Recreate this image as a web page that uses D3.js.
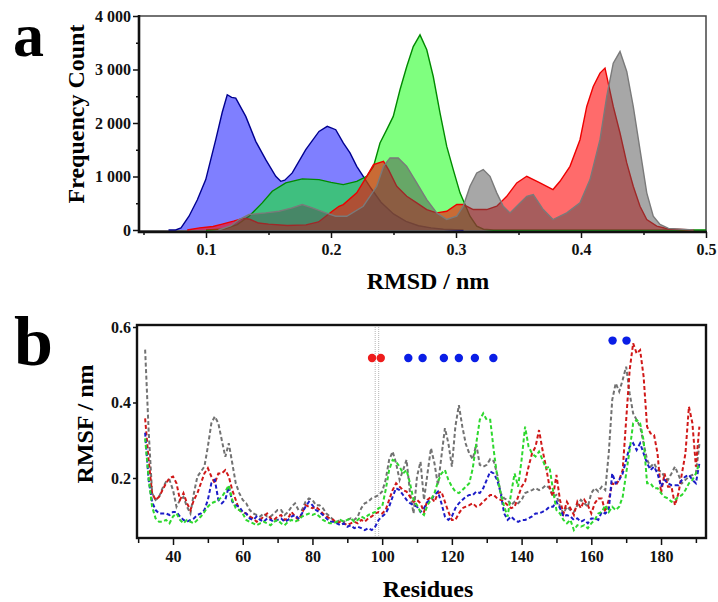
<!DOCTYPE html>
<html>
<head>
<meta charset="utf-8">
<script src="https://cdn.jsdelivr.net/npm/d3@7"></script>
<style>
body { margin: 0; background: #fff; }
text { font-family: "Liberation Serif", "Times New Roman", serif; font-weight: bold; }
</style>
</head>
<body>
<svg id="chart" width="718" height="602"></svg>
<script>

// ---------- panel a : RMSD histograms [rmsd (nm), frequency count] ----------
let rmsdBlue = [[0.07,0],[0.0757,0],[0.08,40],[0.0864,257],[0.093,560],[0.0998,942],[0.1078,1689],[0.113,2200],[0.117,2528],[0.1205,2480],[0.1238,2466],[0.1318,2123],[0.1398,1657],[0.1478,1315],[0.1558,1004],[0.1598,910],[0.163,930],[0.169,1067],[0.1798,1502],[0.1904,1843],[0.197,1937],[0.2038,1875],[0.2098,1627],[0.2152,1440],[0.2206,1190],[0.2258,1004],[0.232,780],[0.24,520],[0.25,300],[0.26,160],[0.27,80],[0.28,40],[0.29,15],[0.3,5],[0.306,0]];
let rmsdGreen = [[0.1,0],[0.115,20],[0.125,100],[0.1344,257],[0.145,507],[0.153,724],[0.1638,880],[0.177,955],[0.1904,942],[0.2,890],[0.2098,849],[0.2206,910],[0.2286,1004],[0.234,1190],[0.2392,1627],[0.2446,1875],[0.2498,2123],[0.2552,2621],[0.2606,3056],[0.2658,3429],[0.2712,3647],[0.2766,3368],[0.2818,2869],[0.2872,2187],[0.2926,1563],[0.2978,1129],[0.3032,694],[0.3072,476],[0.3112,257],[0.3166,70],[0.322,15],[0.33,0],[0.5,0]];
let rmsdRed = [[0.085,0],[0.095,40],[0.1056,65],[0.113,110],[0.122,165],[0.13,220],[0.135,200],[0.142,130],[0.15,110],[0.165,85],[0.18,95],[0.19,150],[0.201,350],[0.2064,444],[0.2098,476],[0.2206,694],[0.2286,1004],[0.234,1222],[0.242,1284],[0.246,1129],[0.2526,817],[0.2606,630],[0.2686,507],[0.2766,382],[0.2846,320],[0.2926,351],[0.3006,476],[0.3058,476],[0.3138,382],[0.3246,382],[0.3326,444],[0.3406,630],[0.3486,880],[0.3566,1004],[0.3672,880],[0.3776,756],[0.3832,910],[0.3912,1190],[0.3992,1688],[0.4046,2310],[0.4098,2683],[0.4152,2933],[0.4192,3026],[0.4218,2746],[0.4258,2310],[0.4312,1813],[0.4366,1254],[0.4418,817],[0.4472,444],[0.4526,196],[0.4606,71],[0.47,20],[0.49,0]];
let rmsdGray = [[0.11,0],[0.12,80],[0.1264,196],[0.1344,289],[0.1478,320],[0.1584,351],[0.169,414],[0.177,476],[0.185,414],[0.1958,320],[0.2038,257],[0.2126,257],[0.2258,444],[0.2366,817],[0.242,1190],[0.2472,1347],[0.2538,1347],[0.2606,1190],[0.2686,880],[0.2766,569],[0.2846,320],[0.2926,196],[0.3006,257],[0.3058,444],[0.3112,817],[0.3166,1067],[0.3218,1129],[0.3272,1004],[0.3326,694],[0.3378,444],[0.3432,320],[0.3486,444],[0.3566,630],[0.3618,662],[0.3698,382],[0.3776,196],[0.3886,320],[0.3992,507],[0.4072,942],[0.4152,1689],[0.4206,2496],[0.4258,3119],[0.4312,3336],[0.4366,2963],[0.4418,2310],[0.4472,1502],[0.4526,694],[0.4578,257],[0.4632,103],[0.47,30],[0.49,0]];

let rmsdTicks = [0.1, 0.2, 0.3, 0.4, 0.5];
let rmsdMinorTicks = [0.05, 0.15, 0.25, 0.35, 0.45];
let countTicks = [0, 1000, 2000, 3000, 4000];
let countMinorTicks = [500, 1500, 2500, 3500];

// ---------- panel b : RMSF per residue ----------
let firstResidue = 32;
let rmsfGray = [0.54,0.327,0.16,0.142,0.15,0.173,0.19,0.195,0.168,0.124,0.142,0.15,0.124,0.106,0.16,0.204,0.217,0.23,0.283,0.345,0.363,0.345,0.30,0.256,0.292,0.239,0.186,0.16,0.142,0.133,0.115,0.106,0.102,0.098,0.106,0.098,0.098,0.106,0.115,0.115,0.102,0.11,0.124,0.133,0.115,0.115,0.137,0.146,0.142,0.128,0.128,0.12,0.106,0.098,0.089,0.084,0.089,0.084,0.089,0.093,0.089,0.098,0.12,0.133,0.137,0.146,0.15,0.155,0.164,0.195,0.248,0.27,0.239,0.195,0.221,0.248,0.16,0.106,0.204,0.243,0.142,0.212,0.279,0.239,0.181,0.257,0.332,0.292,0.23,0.336,0.393,0.336,0.29,0.265,0.25,0.29,0.235,0.23,0.235,0.25,0.245,0.21,0.16,0.146,0.142,0.128,0.137,0.133,0.142,0.16,0.164,0.168,0.173,0.168,0.173,0.181,0.173,0.15,0.155,0.124,0.106,0.124,0.115,0.11,0.128,0.142,0.133,0.124,0.16,0.173,0.164,0.177,0.168,0.265,0.407,0.451,0.429,0.46,0.495,0.424,0.371,0.354,0.336,0.292,0.248,0.23,0.239,0.221,0.217,0.204,0.195,0.212,0.23,0.208,0.186,0.195,0.204,0.208,0.212,0.29];
let rmsfRed = [0.358,0.248,0.16,0.142,0.15,0.168,0.186,0.2,0.204,0.186,0.142,0.16,0.133,0.115,0.142,0.16,0.186,0.212,0.226,0.204,0.186,0.212,0.212,0.221,0.204,0.168,0.142,0.115,0.11,0.106,0.098,0.093,0.084,0.089,0.098,0.106,0.093,0.089,0.098,0.102,0.089,0.093,0.11,0.098,0.089,0.106,0.128,0.124,0.12,0.124,0.115,0.106,0.098,0.093,0.089,0.08,0.084,0.08,0.075,0.08,0.084,0.08,0.089,0.084,0.093,0.098,0.106,0.11,0.106,0.115,0.142,0.168,0.186,0.177,0.168,0.164,0.15,0.137,0.142,0.133,0.11,0.142,0.15,0.137,0.16,0.164,0.137,0.11,0.089,0.089,0.106,0.12,0.124,0.128,0.133,0.124,0.128,0.137,0.146,0.155,0.155,0.146,0.142,0.137,0.128,0.12,0.124,0.15,0.177,0.19,0.23,0.265,0.283,0.327,0.274,0.23,0.177,0.15,0.208,0.142,0.106,0.137,0.12,0.102,0.137,0.12,0.142,0.128,0.106,0.133,0.146,0.146,0.11,0.142,0.186,0.181,0.195,0.221,0.354,0.486,0.557,0.53,0.539,0.469,0.336,0.318,0.314,0.265,0.16,0.212,0.177,0.177,0.128,0.16,0.212,0.265,0.389,0.345,0.23,0.336];
let rmsfBlue = [0.32,0.195,0.137,0.115,0.106,0.106,0.106,0.102,0.11,0.11,0.098,0.089,0.084,0.089,0.093,0.102,0.106,0.115,0.142,0.186,0.195,0.142,0.133,0.142,0.177,0.137,0.128,0.124,0.11,0.106,0.093,0.089,0.098,0.089,0.084,0.093,0.089,0.084,0.089,0.093,0.084,0.089,0.098,0.102,0.093,0.106,0.124,0.137,0.128,0.115,0.11,0.102,0.093,0.084,0.084,0.08,0.075,0.08,0.071,0.075,0.067,0.071,0.067,0.062,0.067,0.062,0.071,0.089,0.098,0.106,0.124,0.15,0.173,0.168,0.155,0.142,0.133,0.128,0.124,0.11,0.12,0.137,0.142,0.155,0.164,0.133,0.098,0.089,0.098,0.12,0.133,0.142,0.15,0.155,0.155,0.164,0.16,0.173,0.195,0.217,0.212,0.195,0.16,0.106,0.089,0.098,0.089,0.084,0.089,0.089,0.093,0.098,0.106,0.106,0.11,0.115,0.124,0.124,0.137,0.12,0.098,0.102,0.098,0.089,0.093,0.084,0.089,0.08,0.093,0.093,0.089,0.11,0.106,0.115,0.212,0.186,0.195,0.212,0.248,0.283,0.292,0.274,0.292,0.265,0.239,0.221,0.23,0.212,0.177,0.195,0.186,0.181,0.181,0.181,0.195,0.204,0.208,0.195,0.186,0.239];
let rmsfGreen = [0.305,0.2,0.124,0.093,0.084,0.084,0.089,0.08,0.098,0.106,0.089,0.08,0.089,0.084,0.08,0.089,0.098,0.11,0.124,0.133,0.137,0.142,0.15,0.164,0.181,0.142,0.12,0.115,0.106,0.089,0.084,0.08,0.075,0.08,0.084,0.08,0.075,0.084,0.089,0.08,0.075,0.084,0.089,0.084,0.089,0.098,0.102,0.106,0.102,0.106,0.098,0.089,0.084,0.08,0.08,0.084,0.089,0.084,0.089,0.093,0.084,0.089,0.098,0.093,0.102,0.106,0.11,0.12,0.124,0.168,0.221,0.248,0.243,0.23,0.212,0.221,0.186,0.142,0.128,0.11,0.102,0.128,0.142,0.16,0.19,0.212,0.221,0.195,0.177,0.164,0.16,0.168,0.177,0.186,0.226,0.292,0.354,0.371,0.354,0.354,0.274,0.204,0.16,0.124,0.098,0.16,0.212,0.177,0.248,0.336,0.283,0.265,0.257,0.27,0.248,0.226,0.23,0.168,0.115,0.106,0.089,0.08,0.089,0.062,0.075,0.071,0.075,0.067,0.08,0.089,0.106,0.11,0.128,0.11,0.124,0.115,0.124,0.15,0.212,0.274,0.345,0.354,0.345,0.30,0.186,0.186,0.173,0.173,0.16,0.15,0.146,0.137,0.142,0.15,0.155,0.168,0.186,0.195,0.212,0.239];

let markRedRes = [97.1, 99.6];
let markBlueRes = [107.5, 111.6, 117.7, 122.0, 126.6, 131.9];
let markBlueTopRes = [166.1, 170.1];
let markRowLow = 0.518;
let markRowHigh = 0.564;
let guideRes = [98, 99];

let residueTicks = [40, 60, 80, 100, 120, 140, 160, 180];
let residueMinorTicks = [30, 50, 70, 90, 110, 130, 150, 170, 190];
let rmsfTicks = [0.2, 0.4, 0.6];

let svg = d3.select("#chart");

// ********* panel a *********
let xA = d3.scaleLinear().domain([0.0464, 0.5]).range([139, 706]);
let yA = d3.scaleLinear().domain([0, 4000]).range([230, 16]);

let area = d3.area().x(d => xA(d[0])).y0(yA(0)).y1(d => yA(d[1]));
let outline = d3.line().x(d => xA(d[0])).y(d => yA(d[1]));

let histos = [
    {data: rmsdBlue, fill: "#0000ff", op: 0.5, stroke: "#000090"},
    {data: rmsdGreen, fill: "#00ff00", op: 0.5, stroke: "#008a00"},
    {data: rmsdRed, fill: "#ff0000", op: 0.58, stroke: "#ee0000"},
    {data: rmsdGray, fill: "#505050", op: 0.5, stroke: "#7a7a7a"}
];

svg.append("rect")
    .attr("x", 139).attr("y", 16)
    .attr("width", 706 - 139).attr("height", 231 - 16)
    .attr("fill", "none").attr("stroke", "#444").attr("stroke-width", 1.5);

for (let h of histos){
    svg.append("path")
        .datum(h.data)
        .attr("d", area)
        .attr("fill", h.fill)
        .attr("fill-opacity", h.op)
    svg.append("path")
        .datum(h.data)
        .attr("d", outline)
        .attr("fill", "none")
        .attr("stroke", h.stroke)
        .attr("stroke-width", 1.4)
}

let fmtCount = d => d == 0 ? "0" : d3.format(",")(d).replace(",", " ");

svg.append("g").attr("transform", "translate(139,0)")
    .call(d3.axisLeft(yA).tickValues(countTicks).tickSize(6).tickPadding(2).tickFormat(fmtCount));
svg.append("g").attr("transform", "translate(139,0)")
    .call(d3.axisLeft(yA).tickValues(countMinorTicks).tickSize(3).tickFormat(""));
svg.append("g").attr("transform", "translate(0,232)")
    .call(d3.axisBottom(xA).tickValues(rmsdTicks).tickSize(6).tickPadding(6).tickFormat(d3.format(".1f")));
svg.append("g").attr("transform", "translate(0,232)")
    .call(d3.axisBottom(xA).tickValues(rmsdMinorTicks).tickSize(3).tickFormat(""));

// thick axis lines
svg.append("path").attr("d", d3.line()([[139, 15], [139, 232], [707, 232]]))
    .attr("fill", "none").attr("stroke", "#111").attr("stroke-width", 2.6);

svg.append("text").attr("x", 13).attr("y", 55.5).attr("font-size", 62).text("a");
svg.append("text")
    .attr("transform", "translate(84,114) rotate(-90)")
    .attr("text-anchor", "middle").attr("font-size", 24)
    .text("Frequency Count");
svg.append("text").attr("x", 428).attr("y", 289)
    .attr("text-anchor", "middle").attr("font-size", 24)
    .text("RMSD / nm");

// ********* panel b *********
let xB = d3.scaleLinear().domain([29.67, 192.9]).range([137, 706]);
let yB = d3.scaleLinear().domain([0.0437, 0.6053]).range([537, 325]);

for (let r of guideRes){
    svg.append("line")
        .attr("x1", xB(r)).attr("x2", xB(r))
        .attr("y1", 325).attr("y2", 537)
        .attr("stroke", "#b4b4b4").attr("stroke-width", 1)
        .attr("stroke-dasharray", "1 1");
}

let rmsfLine = d3.line().x((d, i) => xB(firstResidue + i)).y(d => yB(d));
let traces = [
    {data: rmsfGray, color: "#727272"},
    {data: rmsfRed, color: "#d01818"},
    {data: rmsfBlue, color: "#1c1cc8"},
    {data: rmsfGreen, color: "#2ed82e"}
];
for (let t of traces){
    svg.append("path")
        .datum(t.data)
        .attr("d", rmsfLine)
        .attr("fill", "none")
        .attr("stroke", t.color)
        .attr("stroke-width", 2)
        .attr("stroke-dasharray", "4 2.5");
}

let dots = markRedRes.map(r => [r, markRowLow, "#ee1c1c"])
    .concat(markBlueRes.map(r => [r, markRowLow, "#0a1ee6"]))
    .concat(markBlueTopRes.map(r => [r, markRowHigh, "#0a1ee6"]));
for (let d of dots){
    svg.append("circle")
        .attr("cx", xB(d[0])).attr("cy", yB(d[1]))
        .attr("r", 4.2).attr("fill", d[2]);
}

svg.append("rect")
    .attr("x", 137).attr("y", 325)
    .attr("width", 706 - 137).attr("height", 538 - 325)
    .attr("fill", "none").attr("stroke", "#111").attr("stroke-width", 2.4);

svg.append("g").attr("transform", "translate(137,0)")
    .call(d3.axisLeft(yB).tickValues(rmsfTicks).tickSize(4).tickPadding(2).tickFormat(d3.format(".1f")));
svg.append("g").attr("transform", "translate(0,539)")
    .call(d3.axisBottom(xB).tickValues(residueTicks).tickSize(6).tickPadding(6));
svg.append("g").attr("transform", "translate(0,539)")
    .call(d3.axisBottom(xB).tickValues(residueMinorTicks).tickSize(4).tickFormat(""));

svg.append("text").attr("x", 14).attr("y", 365).attr("font-size", 70).text("b");
svg.append("text")
    .attr("transform", "translate(93,424) rotate(-90)")
    .attr("text-anchor", "middle").attr("font-size", 24)
    .text("RMSF / nm");
svg.append("text").attr("x", 428).attr("y", 597)
    .attr("text-anchor", "middle").attr("font-size", 24)
    .text("Residues");

// axis styling
svg.selectAll(".domain").remove();
svg.selectAll(".tick line").attr("stroke", "#111").attr("stroke-width", 1.5);
svg.selectAll(".tick text")
    .attr("font-size", 16)
    .attr("fill", "#111")
    .style("font-family", "'Liberation Serif', 'Times New Roman', serif")
    .style("font-weight", "bold");

</script>
</body>
</html>
